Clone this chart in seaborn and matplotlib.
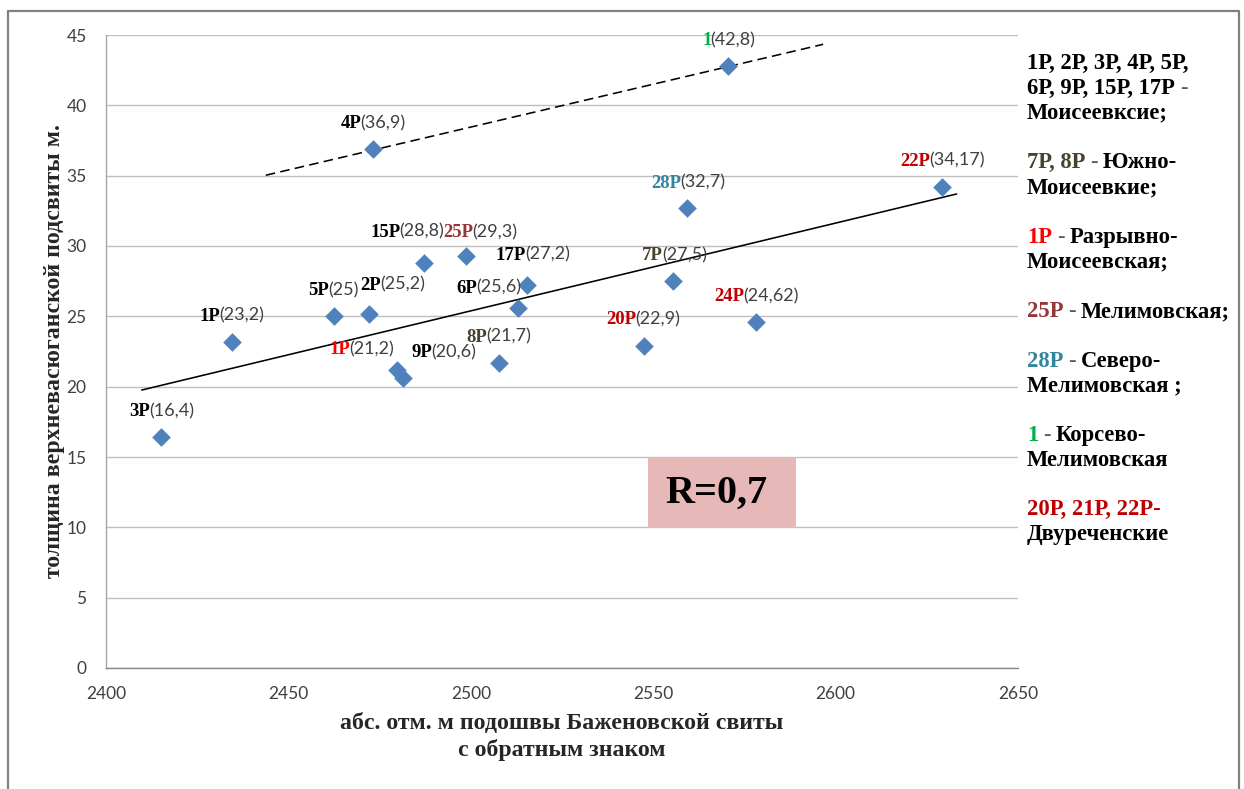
import matplotlib
matplotlib.use("Agg")
import matplotlib.pyplot as plt
from matplotlib.lines import Line2D
from matplotlib.patches import Rectangle
import pandas as pd
import seaborn as sns

# Wells: name, base of the Bazhenov formation (abs. mark, sign reversed), thickness of the upper Vasyugan subformation
well_names = ["3Р", "1Р", "5Р", "2Р", "4Р", "1Р", "9Р", "15Р", "25Р", "8Р",
              "6Р", "17Р", "20Р", "7Р", "28Р", "1", "24Р", "22Р"]
bazhenov_base = [2415.1, 2434.5, 2462.6, 2472.2, 2473.3, 2479.7, 2481.5, 2487.3,
                 2498.7, 2507.8, 2512.9, 2515.3, 2547.5, 2555.5, 2559.3, 2570.6,
                 2578.2, 2629.2]
thickness = [16.4, 23.2, 25, 25.2, 36.9, 21.2, 20.6, 28.8, 29.3, 21.7, 25.6,
             27.2, 22.9, 27.5, 32.7, 42.8, 24.62, 34.17]

# Trend lines (end points)
main_trend_x = [2409.8, 2633.2]
main_trend_y = [19.76, 33.70]
upper_trend_x = [2443.8, 2596.6]
upper_trend_y = [35.03, 44.34]

x_ticks = [2400, 2450, 2500, 2550, 2600, 2650]
y_ticks = [0, 5, 10, 15, 20, 25, 30, 35, 40, 45]
correlation_label = "R=0,7"
x_title = "абс. отм. м подошвы Баженовской свиты\nс обратным знаком"
y_title = "толщина верхневасюганской подсвиты м."

BLACK = "#000000"
OLIVE = "#494429"
RED = "#FF0000"
BROWN = "#953735"
TEAL = "#31859C"
GREEN = "#00B050"
DARKRED = "#C00000"
VALUE_GRAY = "#404040"

label_colors = [BLACK, BLACK, BLACK, BLACK, BLACK, RED, BLACK, BLACK, BROWN, OLIVE,
                BLACK, BLACK, DARKRED, OLIVE, TEAL, GREEN, DARKRED, DARKRED]
# label start relative to the marker, pixels (dx right, dy up to baseline)
label_offsets = [(-32, 21), (-32, 21), (-26, 21), (-9, 24), (-33, 20.5), (-67, 15.5),
                 (8, 21), (-54, 26), (-23, 18.5), (-33, 21), (-61, 15), (-31, 25.5),
                 (-38, 21.5), (-31, 21), (-36, 20.5), (-26, 21), (-42, 20.5), (-42, 21.5)]

# Field groups listed on the right
group_lines = [
    (0, [("1Р, 2Р, 3Р, 4Р, 5Р,", BLACK)]),
    (1, [("6Р, 9Р, 15Р, 17Р", BLACK), None]),
    (2, [("Моисеевксие;", BLACK)]),
    (4, [("7Р, 8Р", OLIVE), None, ("Южно-", BLACK)]),
    (5, [("Моисеевкие;", BLACK)]),
    (7, [("1Р", RED), None, ("Разрывно-", BLACK)]),
    (8, [("Моисеевская;", BLACK)]),
    (10, [("25Р", BROWN), None, ("Мелимовская;", BLACK)]),
    (12, [("28Р", TEAL), None, ("Северо-", BLACK)]),
    (13, [("Мелимовская ;", BLACK)]),
    (15, [("1", GREEN), None, ("Корсево-", BLACK)]),
    (16, [("Мелимовская", BLACK)]),
    (18, [("20Р, 21Р, 22Р-", DARKRED)]),
    (19, [("Двуреченские", BLACK)]),
]

sns.set_style("white")
plt.rcParams["font.family"] = ["Liberation Serif", "DejaVu Serif"]
SERIF = ["Liberation Serif", "DejaVu Serif"]
SANS = ["Lato", "DejaVu Sans"]

W, H = 1244, 789
fig = plt.figure(figsize=(W / 100, H / 100), dpi=100)
fig.patch.set_facecolor("white")
ax = fig.add_axes([106 / W, 1 - 668 / H, 912 / W, 633 / H])

df = pd.DataFrame({"well": well_names, "base": bazhenov_base, "thickness": thickness})

sns.lineplot(x=main_trend_x, y=main_trend_y, color="black", linewidth=1.15, ax=ax,
             zorder=2)
sns.lineplot(x=upper_trend_x, y=upper_trend_y, color="black", linewidth=1.15, ax=ax,
             linestyle=(0, (6, 3.3)), zorder=2)
sns.scatterplot(data=df, x="base", y="thickness", marker="D", s=90, color="#4F81BD",
                linewidth=0, ax=ax, zorder=3)

ax.set_xlim(2400, 2650)
ax.set_ylim(0, 45)
ax.set_xticks(x_ticks)
ax.set_yticks(y_ticks)
ax.yaxis.grid(True, color="#BFBFBF", linewidth=1.0)
ax.xaxis.grid(False)
ax.set_axisbelow(True)
for side in ("top", "right"):
    ax.spines[side].set_visible(False)
ax.spines["left"].set_color("#A6A6A6")
ax.spines["bottom"].set_color("#868686")
ax.spines["left"].set_linewidth(1.0)
ax.spines["bottom"].set_linewidth(1.0)
ax.tick_params(axis="y", direction="out", length=5.5, width=1.0, color="#A6A6A6",
               pad=8.5, labelsize=12.5, labelcolor=VALUE_GRAY)
ax.tick_params(axis="x", direction="out", length=5.5, width=1.0, color="#868686",
               pad=7.5, labelsize=12.5, labelcolor=VALUE_GRAY)
for lab in ax.get_xticklabels() + ax.get_yticklabels():
    lab.set_fontfamily(SANS)

ax.set_xlabel(x_title, fontsize=17.2, fontweight="bold", family=SERIF,
              linespacing=1.3, labelpad=8)
ax.set_ylabel(y_title, fontsize=17.2, fontweight="bold", family=SERIF, labelpad=1)


def fmt_value(v):
    return "(" + f"{v:g}".replace(".", ",") + ")"


# Point labels: bold well name followed by the value
for name, xv, yv, col, (dx, dy) in zip(well_names, bazhenov_base, thickness,
                                        label_colors, label_offsets):
    head = ax.annotate(name, xy=(xv, yv), xytext=(dx, dy), textcoords="offset pixels",
                       ha="left", va="baseline", fontsize=13.5, fontweight="bold",
                       family=SERIF, color=col, zorder=5)
    ax.annotate(fmt_value(yv), xy=(1, yv), xycoords=(head, "data"),
                xytext=(-1, dy), textcoords="offset pixels", ha="left",
                va="baseline", fontsize=13, family=SANS, color=VALUE_GRAY,
                zorder=5)

# Correlation box
ax.add_patch(Rectangle((0.594, 0.221), 0.163, 0.112, transform=ax.transAxes,
                       facecolor="#E6B9B8", edgecolor="none", zorder=4))
ax.text(0.613, 0.2607, correlation_label, transform=ax.transAxes, ha="left",
        va="baseline", fontsize=29, fontweight="bold", family=SERIF, color="black",
        zorder=6)

# Group list on the right
x0 = 1027
first_baseline = 69
pitch = 24.8
for idx, runs in group_lines:
    ybase = H - (first_baseline + idx * pitch)
    prev = None
    for run in runs:
        if run is None:
            text, color, weight, gap = "-", "#595959", "normal", 5
        else:
            text, color = run
            weight = "bold"
            gap = 5 if prev is not None else 0
        if prev is None:
            prev = ax.annotate(text, xy=(x0, ybase), xycoords="figure pixels",
                               ha="left", va="baseline", fontsize=16.3,
                               fontweight=weight, family=SERIF, color=color,
                               annotation_clip=False)
        else:
            prev = ax.annotate(text, xy=(1, ybase), xycoords=(prev, "figure pixels"),
                               xytext=(gap, 0), textcoords="offset pixels",
                               ha="left", va="baseline", fontsize=16.3,
                               fontweight=weight, family=SERIF, color=color,
                               annotation_clip=False)

# Outer chart frame
fx0, fx1 = 8 / W, 1239 / W
fy_top = 1 - 11 / H
fig.add_artist(Line2D([fx0, fx0, fx1, fx1], [-0.1, fy_top, fy_top, -0.1],
                      transform=fig.transFigure, color="#808080", linewidth=1.6,
                      clip_on=False))

fig.savefig("out.png", dpi=100)
